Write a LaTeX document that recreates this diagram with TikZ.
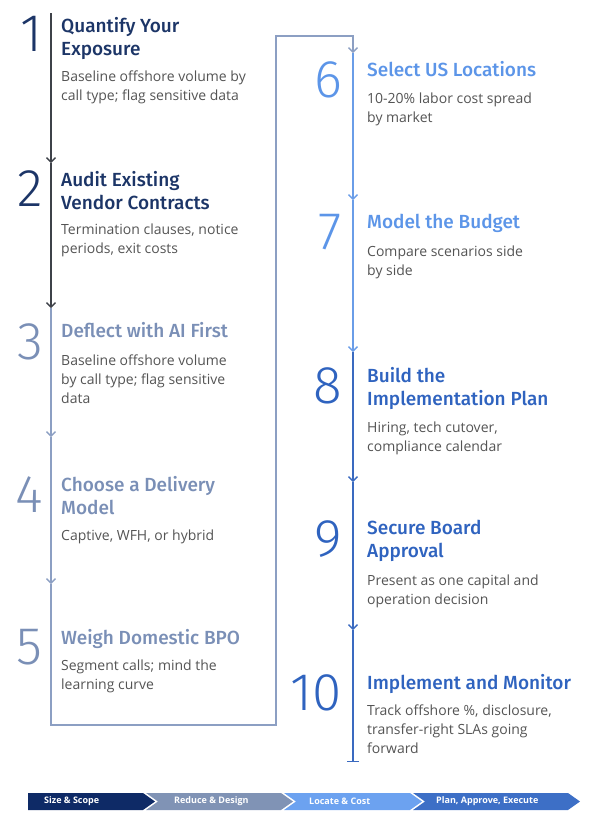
\documentclass[tikz,border=0pt]{standalone}
\usepackage{fontspec}
\setmainfont{Open Sans}
\newfontfamily\headfont{Fira Sans Medium}
\newfontfamily\digitfont{Fira Sans Light}
\usetikzlibrary{arrows.meta, positioning}

\definecolor{navy}{HTML}{1C3567}
\definecolor{slate}{HTML}{7A8FB6}
\definecolor{sky}{HTML}{5C95E8}
\definecolor{royal}{HTML}{2F63BF}
\definecolor{bodygrey}{HTML}{545454}
\definecolor{spinedark}{HTML}{3E4249}
\definecolor{spineslate}{HTML}{8C9FC3}
\definecolor{spinesky}{HTML}{6A9DE8}
\definecolor{spineroyal}{HTML}{3A6AC0}
\definecolor{phaseA}{HTML}{0E2A66}
\definecolor{phaseB}{HTML}{8093B5}
\definecolor{phaseC}{HTML}{6CA2F0}
\definecolor{phaseD}{HTML}{3D6FC6}

\tikzset{
  steptitle/.style={anchor=north west, inner sep=0pt, align=left, font=\headfont\fontsize{19}{23}\selectfont},
  stepbody/.style={anchor=north west, inner sep=0pt, align=left, text=bodygrey, font=\fontsize{14}{19}\selectfont},
  stepnum/.style={anchor=north east, inner sep=0pt, font=\digitfont\fontsize{53}{53}\selectfont},
  spine/.style={line width=1.3pt, -{Straight Barb[length=4.5pt,width=9pt]}},
  phase/.style={anchor=west, inner sep=0pt, text=white, font=\bfseries\fontsize{9}{10}\selectfont}
}

\begin{document}
\begin{tikzpicture}[x=1pt, y=-1pt]
\useasboundingbox (0,0) rectangle (600,828);

% left column
\node (t1) [steptitle, text=navy] at (61,17.5) {Quantify Your\\Exposure};
\node (b1) [stepbody] at (61,70.5) {Baseline offshore volume by\\call type; flag sensitive data};
\node (n1) [stepnum, text=navy] at (43,16) {1};

\node (t2) [steptitle, text=navy] at (61,170.7) {Audit Existing\\Vendor Contracts};
\node (b2) [stepbody] at (61,223.5) {Termination clauses, notice\\periods, exit costs};
\node (n2) [stepnum, text=navy] at (43,170) {2};

\node (t3) [steptitle, text=slate] at (61,322.5) {Deflect with AI First};
\node (b3) [stepbody] at (61,354.5) {Baseline offshore volume\\by call type; flag sensitive\\data};
\node (n3) [stepnum, text=slate] at (43,323) {3};

\node (t4) [steptitle, text=slate] at (61,476) {Choose a Delivery\\Model};
\node (b4) [stepbody] at (61,529.5) {Captive, WFH, or hybrid};
\node (n4) [stepnum, text=slate] at (43,476) {4};

\node (t5) [steptitle, text=slate] at (61,629) {Weigh Domestic BPO};
\node (b5) [stepbody] at (61,659.5) {Segment calls; mind the\\learning curve};
\node (n5) [stepnum, text=slate] at (43,629) {5};

% right column
\node (t6) [steptitle, text=sky] at (367,61) {Select US Locations};
\node (b6) [stepbody] at (367,92.2) {10-20\% labor cost spread\\by market};
\node (n6) [stepnum, text=sky] at (342,61) {6};

\node (t7) [steptitle, text=sky] at (367,214.2) {Model the Budget};
\node (b7) [stepbody] at (367,245.5) {Compare scenarios side\\by side};
\node (n7) [stepnum, text=sky] at (342,214) {7};

\node (t8) [steptitle, text=royal] at (367,367.5) {Build the\\Implementation Plan};
\node (b8) [stepbody] at (367,421.2) {Hiring, tech cutover,\\compliance calendar};
\node (n8) [stepnum, text=royal] at (342,367) {8};

\node (t9) [steptitle, text=royal] at (367,520) {Secure Board\\Approval};
\node (b9) [stepbody] at (367,574.5) {Present as one capital and\\operation decision};
\node (n9) [stepnum, text=royal] at (342,520) {9};

\node (t10) [steptitle, text=royal] at (367,674.2) {Implement and Monitor};
\node (b10) [stepbody] at (367,704.5) {Track offshore \%, disclosure,\\transfer-right SLAs going\\forward};
\node (n10) [stepnum, text=royal] at (342,674) {10};

% spine points
\coordinate (s1) at (51,13);
\coordinate (s2) at (51,163);
\coordinate (s3) at (51,308);
\coordinate (s4) at (51,437);
\coordinate (s5) at (51,584);
\coordinate (turn1) at (51,725);
\coordinate (turn2) at (276,725);
\coordinate (turn3) at (276,36);
\coordinate (turn4) at (353,36);
\coordinate (s6) at (353,53);
\coordinate (s7) at (353,200);
\coordinate (s8) at (353,352);
\coordinate (s9) at (353,482);
\coordinate (s10) at (353,630);
\coordinate (send) at (353,762);

\draw [spine, spinedark] (s1) -- (s2);
\draw [spine, spinedark] (s2) -- (s3);
\draw [spine, spineslate] (s3) -- (s4);
\draw [spine, spineslate] (s4) -- (s5);
\draw [spine, spineslate] (s5) -- (turn1) -- (turn2) -- (turn3) -- (turn4) -- (s6);
\draw [spine, spinesky] (s6) -- (s7);
\draw [spine, spinesky] (s7) -- (s8);
\draw [spine, spineroyal] (s8) -- (s9);
\draw [spine, spineroyal] (s9) -- (s10);
\draw [spine, spineroyal, -{Bar[width=12pt]}] (s10) -- (send);

% phase bar
\fill [phaseA] (28,793) -- (143,793) -- (155,801.5) -- (143,810) -- (28,810) -- cycle;
\fill [phaseB] (146,793) -- (281,793) -- (293,801.5) -- (281,810) -- (146,810) -- (158,801.5) -- cycle;
\fill [phaseC] (284,793) -- (410,793) -- (422,801.5) -- (410,810) -- (284,810) -- (296,801.5) -- cycle;
\fill [phaseD] (413,793) -- (568,793) -- (580,801.5) -- (568,810) -- (413,810) -- (425,801.5) -- cycle;
\node (p1) [phase] at (44,801.5) {Size \& Scope};
\node (p2) [phase] at (174,801.5) {Reduce \& Design};
\node (p3) [phase] at (309,801.5) {Locate \& Cost};
\node (p4) [phase] at (436,801.5) {Plan, Approve, Execute};
\end{tikzpicture}
\end{document}
